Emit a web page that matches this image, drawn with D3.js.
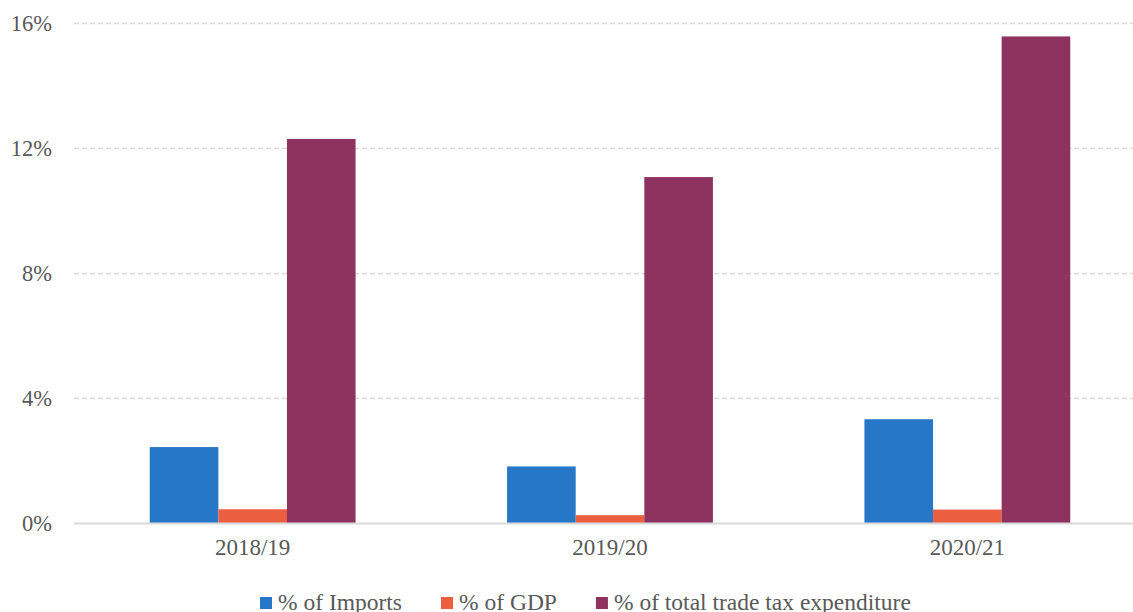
<!DOCTYPE html>
<html>
<head>
<meta charset="utf-8">
<script src="https://cdn.jsdelivr.net/npm/d3@7/dist/d3.min.js"></script>
<style>
  body { margin: 0; background: #fff; }
  svg text { font-family: "Liberation Serif", "Times New Roman", serif !important; fill: #595959; }
</style>
</head>
<body>
<svg width="1133" height="612"></svg>
<script>
// data
var years = ["2018/19", "2019/20", "2020/21"];
var imports = [2.43, 1.81, 3.32];
var gdp = [0.44, 0.25, 0.43];
var tradeTax = [12.29, 11.07, 15.57];
var seriesNames = ["% of Imports", "% of GDP", "% of total trade tax expenditure"];
var colors = ["#2677c8", "#eb5f40", "#8e3360"];
var yTicks = [0, 4, 8, 12, 16];

var series = [imports, gdp, tradeTax];
var serif = "'Liberation Serif', 'Times New Roman', serif";

var svg = d3.select("svg"),
    margin = {top: 23, left: 74, bottom: 89},
    height = 612 - margin.bottom;

var x0 = d3.scaleBand()
    .domain(years)
    .range([74, 1146])
    .paddingInner(0.424)
    .paddingOuter(0.212);

var x1 = d3.scaleBand()
    .domain(d3.range(series.length))
    .range([0, x0.bandwidth()]);

var y = d3.scaleLinear()
    .domain([0, 16])
    .range([height, margin.top]);

// gridlines
var grid = svg.append("g");
grid.selectAll("line")
  .data(yTicks.filter(function(d) { return d > 0; }))
  .enter().append("line")
  .attr("x1", 74)
  .attr("x2", 1133)
  .attr("y1", function(d) { return Math.round(y(d)) + 0.5; })
  .attr("y2", function(d) { return Math.round(y(d)) + 0.5; })
  .attr("stroke", "#d9d9d9")
  .attr("stroke-width", 1.3)
  .attr("stroke-dasharray", "5,3");

// y axis labels
var yAxis = svg.append("g")
  .attr("transform", "translate(52,0)")
  .call(d3.axisLeft(y).tickValues(yTicks).tickSize(0).tickPadding(0)
        .tickFormat(function(d) { return d + "%"; }));
yAxis.attr("font-family", null).attr("font-size", null);
yAxis.select(".domain").remove();
yAxis.selectAll("text")
  .style("font-family", serif)
  .style("font-size", "22.5px")
  .style("fill", "#595959");

// bars
var groups = svg.append("g")
  .selectAll("g")
  .data(years)
  .enter().append("g")
  .attr("transform", function(d) { return "translate(" + x0(d) + ",0)"; });

groups.selectAll("rect")
  .data(function(d, i) {
    return series.map(function(s, k) { return {k: k, v: s[i]}; });
  })
  .enter().append("rect")
  .attr("x", function(d) { return x1(d.k); })
  .attr("width", x1.bandwidth())
  .attr("y", function(d) { return y(d.v); })
  .attr("height", function(d) { return y(0) - y(d.v); })
  .attr("fill", function(d) { return colors[d.k]; });

// baseline
svg.append("line")
  .attr("x1", 74).attr("x2", 1133)
  .attr("y1", y(0) + 0.5).attr("y2", y(0) + 0.5)
  .attr("stroke", "#d9d9d9")
  .attr("stroke-width", 2);

// x axis labels
var xAxis = svg.append("g")
  .attr("transform", "translate(0," + (y(0) + 8) + ")")
  .call(d3.axisBottom(x0).tickSize(0).tickPadding(8));
xAxis.attr("font-family", null).attr("font-size", null);
xAxis.select(".domain").remove();
xAxis.selectAll("text")
  .style("font-family", serif)
  .style("font-size", "23px")
  .style("fill", "#595959");

// legend
var legend = svg.append("g").attr("transform", "translate(0,602)");
var lx = 260;
seriesNames.forEach(function(name, i) {
  var item = legend.append("g").attr("transform", "translate(" + lx + ",0)");
  item.append("rect")
    .attr("x", 0).attr("y", -5)
    .attr("width", 12).attr("height", 12)
    .attr("fill", colors[i]);
  var t = item.append("text")
    .attr("x", 18)
    .attr("dy", "0.35em")
    .style("font-family", serif)
    .style("font-size", "23.5px")
    .text(name);
  lx += 18 + t.node().getComputedTextLength() + 39;
});
</script>
</body>
</html>
